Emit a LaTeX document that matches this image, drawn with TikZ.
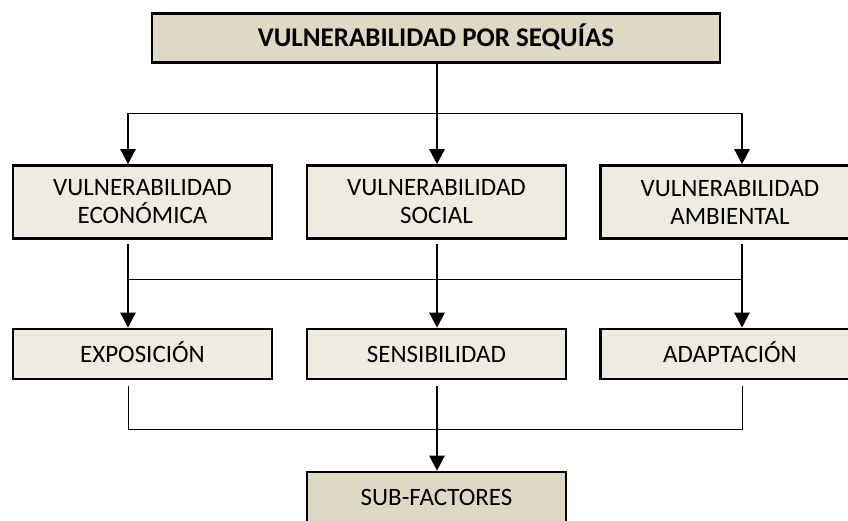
\documentclass[tikz,border=0pt]{standalone}
\usepackage{fontspec}
\setmainfont{Carlito}
\usetikzlibrary{arrows.meta}
\definecolor{darkbox}{HTML}{DDD9C4}
\definecolor{lightbox}{HTML}{EEECE1}
\tikzset{
  box/.style={draw=black, line width=2.6pt, minimum width=259pt, inner sep=0pt, align=center, font=\fontsize{25}{28}\selectfont},
  midbox/.style={box, fill=lightbox, minimum height=73pt},
  lowbox/.style={box, fill=lightbox, minimum height=50pt, text height=16pt, text depth=0pt},
  thick arrow/.style={line width=2.4pt, -{Triangle[length=15pt,width=15pt]}},
  thin line/.style={line width=1pt},
}
\begin{document}
\begin{tikzpicture}[x=1pt,y=-1pt]
\useasboundingbox (0,0) rectangle (848,520);
\begin{scope}
\clip (0,0) rectangle (848,520);
\node[box, fill=darkbox, minimum width=568pt, minimum height=49pt, text height=17pt, text depth=0pt, font=\fontsize{27}{28}\selectfont\bfseries] (top) at (436,38) {VULNERABILIDAD POR SEQUÍAS};
\node[midbox] (eco) at (142.5,202) {VULNERABILIDAD\\ECONÓMICA};
\node[midbox] (soc) at (436.5,202) {VULNERABILIDAD\\SOCIAL};
\node[midbox] (amb) at (730,202) {VULNERABILIDAD\\AMBIENTAL};
\node[lowbox] (exp) at (142.5,354) {EXPOSICIÓN};
\node[lowbox] (sen) at (436.5,354) {SENSIBILIDAD};
\node[lowbox] (ada) at (730,354) {ADAPTACIÓN};
\node[lowbox, fill=darkbox] (sub) at (436.5,497) {SUB-FACTORES};

\coordinate (cx) at (437,0);
% row 1 connectors
\coordinate (h1l) at (128,113);
\coordinate (h1r) at (742,113);
\draw[thin line] (h1l) -- (h1r);
\draw[thick arrow] (h1l) -- (h1l |- eco.north);
\draw[thick arrow] (h1r) -- (h1r |- amb.north);
\draw[thick arrow] (top.south -| cx) -- (soc.north -| cx);

% row 2 connectors
\coordinate (h2l) at (128,279);
\coordinate (h2r) at (742,279);
\draw[thin line] (h2l) -- (h2r);
\draw[thick arrow] ([yshift=-4pt]eco.south -| h2l) -- (exp.north -| h2l);
\draw[thick arrow] ([yshift=-4pt]soc.south -| cx) -- (sen.north -| cx);
\draw[thick arrow] ([yshift=-4pt]amb.south -| h2r) -- (ada.north -| h2r);

% row 3 connectors
\coordinate (h3l) at (128,429);
\coordinate (h3r) at (742,429);
\draw[thin line] ([yshift=-6pt]exp.south -| h3l) -- (h3l) -- (h3r) -- ([yshift=-6pt]ada.south -| h3r);
\draw[thick arrow] ([yshift=-6pt]sen.south -| cx) -- (sub.north -| cx);
\end{scope}
\end{tikzpicture}
\end{document}
